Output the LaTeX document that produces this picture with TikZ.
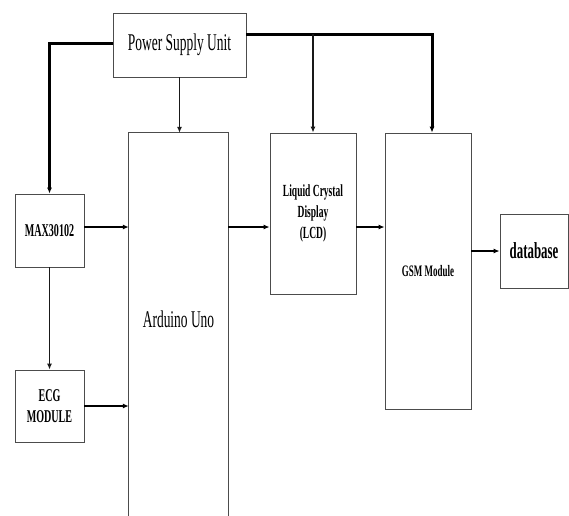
\documentclass[tikz,border=0pt]{standalone}
\usepackage{fontspec}
\newfontfamily\narrowfont{Liberation Serif}[FakeStretch=0.56]
\usetikzlibrary{arrows.meta}
\begin{document}
\begin{tikzpicture}[x=1pt,y=-1pt,>={Latex[length=6pt,width=5pt]},
	block/.style={draw=black!70,line width=0.8pt,inner sep=0pt,align=center},
	wire/.style={line width=1.2pt,black!90},
	hwire/.style={line width=2pt},
	bus/.style={line width=3pt}]
	\useasboundingbox (0,0) rectangle (569,515);

	\node (psu) [block,minimum width=133pt,minimum height=64pt,font=\narrowfont\fontsize{24}{26}\selectfont] at (179.5,45) {Power Supply Unit};
	\node (ard) [inner sep=0pt,minimum width=99pt,minimum height=372pt,font=\narrowfont\fontsize{24}{26}\selectfont] at (178.5,319) {Arduino Uno};
	\node (lcd) [block,minimum width=86pt,minimum height=161pt,font=\narrowfont\bfseries\fontsize{17}{21}\selectfont] at (313,213.5) {Liquid Crystal\\Display\\(LCD)};
	\node (gsm) [block,minimum width=86pt,minimum height=276pt,font=\narrowfont\bfseries\fontsize{16}{18}\selectfont] at (428,271) {GSM Module};
	\node (db) [block,minimum width=68pt,minimum height=74pt,font=\narrowfont\bfseries\fontsize{23}{25}\selectfont] at (534,251) {database};
	\node (max) [block,minimum width=69pt,minimum height=73pt,font=\narrowfont\bfseries\fontsize{18}{21}\selectfont] at (49.5,230.5) {MAX30102};
	\node (ecg) [block,minimum width=69pt,minimum height=72pt,font=\narrowfont\bfseries\fontsize{18}{21}\selectfont] at (49.5,406) {ECG\\MODULE};

	% open bottom of the Arduino box
	\draw[draw=black!70,line width=0.8pt] ([yshift=-15pt]ard.south west) -- (ard.north west) -- (ard.north east) -- ([yshift=-15pt]ard.south east);

	\coordinate (rail) at ([yshift=11pt]psu.east);
	\coordinate (row) at ([yshift=3.5pt]max.east);
	\draw[bus,->] ([yshift=2pt]psu.west) -| (max.north);
	\draw[bus,->] (rail) -| ([xshift=4pt]gsm.north);
	\draw[wire,->] (rail -| lcd.north) -- (lcd.north);
	\draw[wire,->] (psu.south) -- (psu.south |- ard.north);
	\draw[wire,->] (max.south) -- (ecg.north);

	\draw[hwire,->] (row) -- (row -| ard.west);
	\draw[hwire,->] (ecg.east) -- (ecg.east -| ard.west);
	\draw[hwire,->] (ard.east |- row) -- (lcd.west |- row);
	\draw[hwire,->] (lcd.east |- row) -- (gsm.west |- row);
	\draw[hwire,->] (gsm.east |- db.west) -- (db.west);
\end{tikzpicture}
\end{document}
